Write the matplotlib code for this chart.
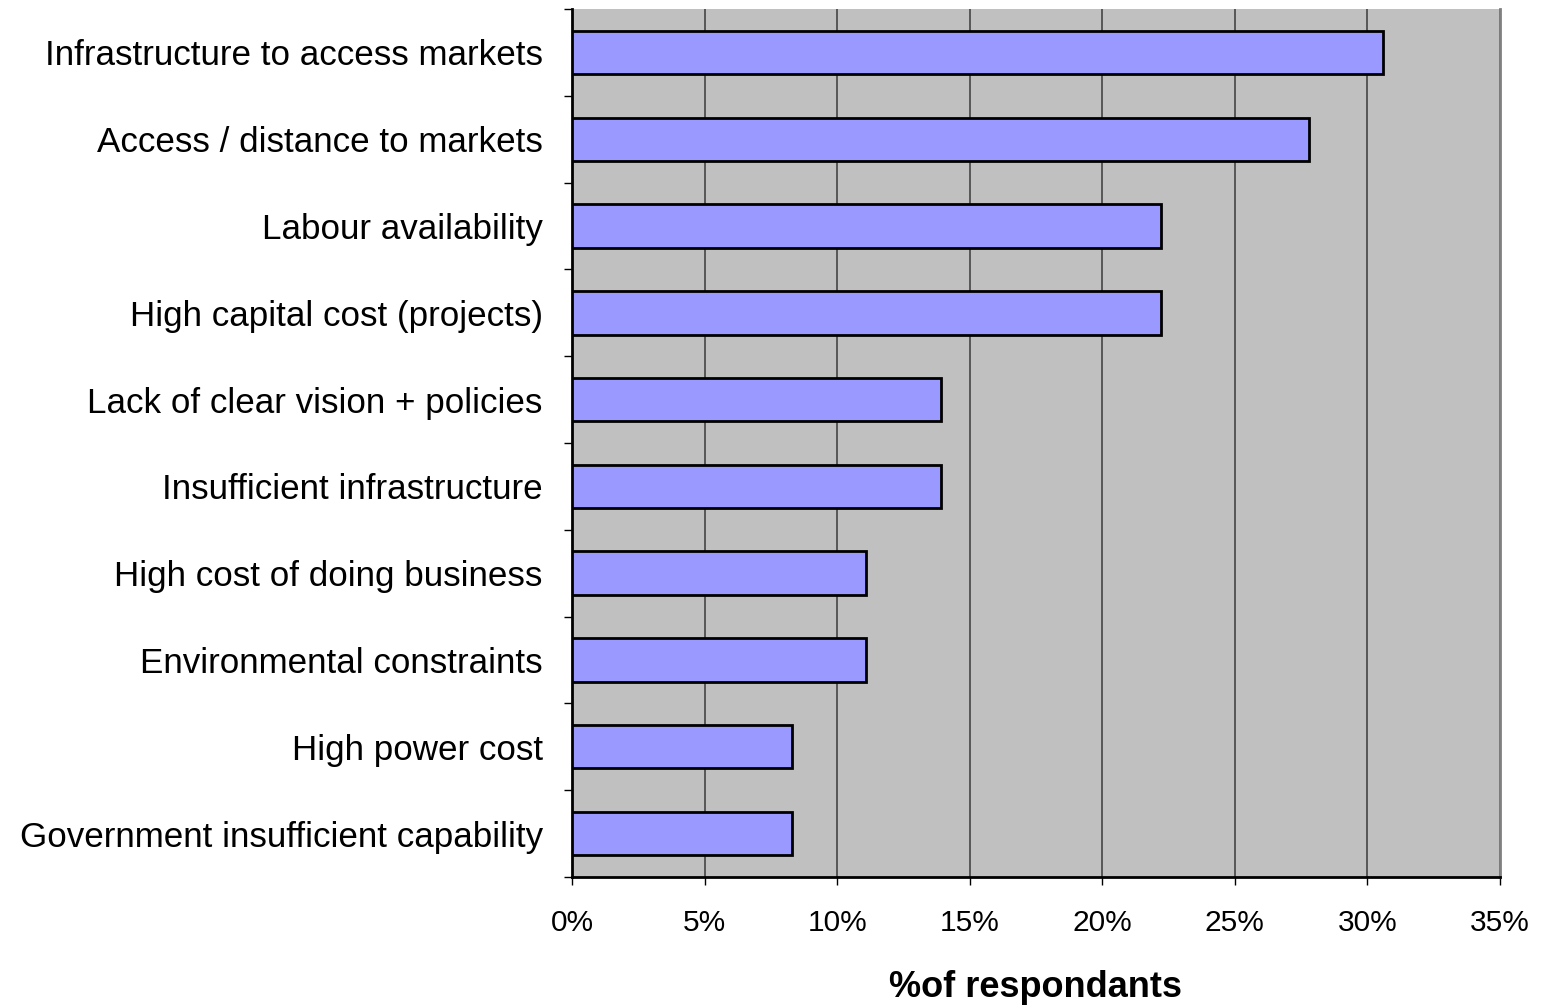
"""
Horizontal bar chart of reported constraints (% of respondents).
"""
import matplotlib

matplotlib.use("Agg")
import matplotlib.pyplot as plt
from matplotlib.ticker import FuncFormatter, MultipleLocator

categories = [
    "Infrastructure to access markets",
    "Access / distance to markets",
    "Labour availability",
    "High capital cost (projects)",
    "Lack of clear vision + policies",
    "Insufficient infrastructure",
    "High cost of doing business",
    "Environmental constraints",
    "High power cost",
    "Government insufficient capability",
]
pct_respondents = [30.6, 27.8, 22.2, 22.2, 13.9, 13.9, 11.1, 11.1, 8.3, 8.3]

plt.rcParams["font.family"] = ["Liberation Sans", "DejaVu Sans"]

fig = plt.figure(figsize=(15.48, 10.05), dpi=100)
ax = fig.add_axes([0.3695, 0.1274, 0.5995, 0.8636])
ax.set_facecolor("#C0C0C0")

ypos = list(range(len(categories)))
ax.barh(ypos, pct_respondents, height=0.5, color="#9999FF",
        edgecolor="black", linewidth=2, zorder=3)

ax.set_xlim(0, 35)
ax.set_ylim(len(categories) - 0.5, -0.5)

ax.xaxis.set_major_locator(MultipleLocator(5))
ax.xaxis.set_major_formatter(FuncFormatter(lambda v, _: f"{v:.0f}%"))
ax.grid(axis="x", color="#3a3a3a", linewidth=1.1, zorder=1)
ax.set_axisbelow(True)

ax.set_yticks(ypos)
ax.set_yticklabels(categories, va="center_baseline")
ax.set_yticks([i - 0.5 for i in range(len(categories) + 1)], minor=True)
ax.tick_params(axis="y", which="major", length=0, pad=21, labelsize=25.2)
ax.tick_params(axis="y", which="minor", length=6, width=1, color="black")
ax.tick_params(axis="x", which="major", length=6, width=1, pad=17, labelsize=21.5)

for side in ("left", "bottom"):
    ax.spines[side].set_color("black")
    ax.spines[side].set_linewidth(2)
ax.spines["right"].set_color("#808080")
ax.spines["right"].set_linewidth(2)
ax.spines["top"].set_visible(False)

ax.set_xlabel("%of respondants", fontsize=26, fontweight="bold", labelpad=24)

fig.savefig("out.png", dpi=100)
